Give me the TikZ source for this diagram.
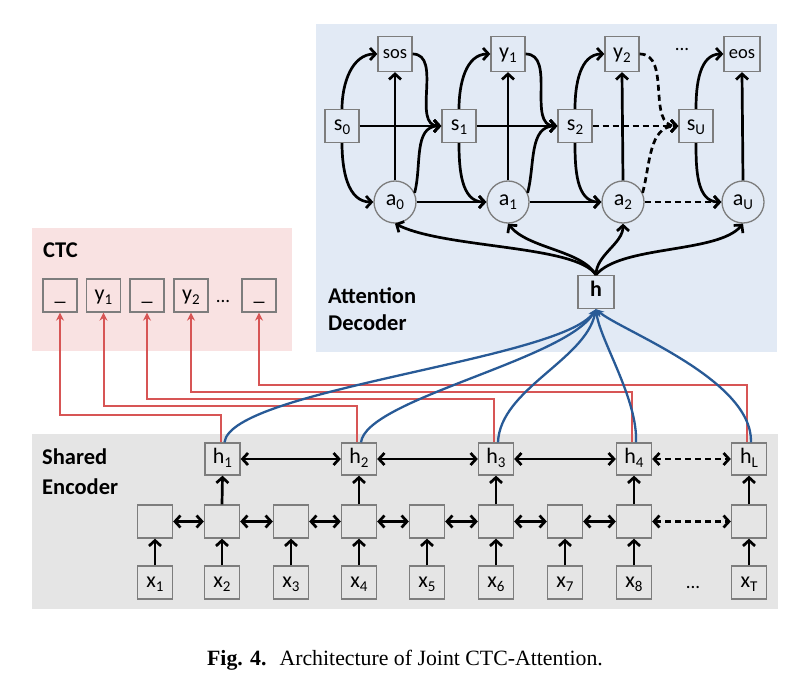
\documentclass[tikz,border=0pt]{standalone}
\usepackage{fontspec}
\setmainfont{Carlito}
\newfontfamily\capfont{Liberation Serif}
\usetikzlibrary{arrows.meta}
\definecolor{decbg}{RGB}{226,234,245}
\definecolor{ctcbg}{RGB}{249,226,226}
\definecolor{encbg}{RGB}{229,229,229}
\definecolor{boxline}{RGB}{125,125,125}
\definecolor{redln}{RGB}{215,85,85}
\definecolor{blueln}{RGB}{40,90,150}
\newcommand{\lsub}[1]{\raisebox{-4pt}{\fontsize{15}{15}\selectfont #1}}
\begin{document}
\begin{tikzpicture}[x=1pt,y=1pt,
  cell/.style={draw=boxline, line width=1.3pt, minimum width=34pt, minimum height=33pt, inner sep=0pt, text height=13pt, text depth=4pt, font=\fontsize{22}{22}\selectfont},
  circ/.style={circle, draw=boxline, line width=1.3pt, minimum size=42pt, inner sep=0pt, font=\fontsize{22}{22}\selectfont},
  blk/.style={line width=2.7pt, -{Straight Barb[length=5.5pt,width=12pt]}},
  blk2/.style={line width=2.7pt, {Straight Barb[length=5.5pt,width=12pt]}-{Straight Barb[length=5.5pt,width=12pt]}},
  dsh/.style={dash pattern=on 6pt off 4pt},
  redl/.style={draw=redln, line width=2pt, -{Stealth[length=8pt,width=8pt]}},
  bluel/.style={draw=blueln, line width=2.3pt, -{Stealth[length=8pt,width=7pt]}},
  lbl/.style={font=\fontsize{22.5}{22.5}\selectfont\bfseries, anchor=base west, inner sep=0pt},
  dots/.style={font=\fontsize{19}{19}\selectfont, anchor=base, inner sep=0pt}
]
\useasboundingbox (0,0) rectangle (804,-682);
% backgrounds
\fill[decbg] (316,-24) rectangle (777,-352);
\fill[ctcbg] (32,-228) rectangle (292,-351);
\fill[encbg] (32,-434) rectangle (778,-609);

% labels
\node[lbl] (lctc) at (43,-258) {CTC};
\node[lbl] (latt) at (328,-303) {Attention};
\node[lbl] (ldec) at (328,-330) {Decoder};
\node[lbl] (lsha) at (42,-464) {Shared};
\node[lbl] (lenc) at (42,-494) {Encoder};

% decoder nodes
\node[cell] (s0) at (342,-126) {s\lsub{0}};
\node[cell, minimum height=35pt, font=\fontsize{18.5}{18.5}\selectfont] (sos) at (395,-54) {sos};
\node[circ] (a0) at (395,-202) {a\lsub{0}};
\node[cell] (s1) at (459,-126) {s\lsub{1}};
\node[cell, minimum height=35pt] (y1) at (508,-54) {y\lsub{1}};
\node[circ] (a1) at (508,-202) {a\lsub{1}};
\node[cell] (s2) at (575,-126) {s\lsub{2}};
\node[cell, minimum height=35pt] (y2) at (622,-54) {y\lsub{2}};
\node[circ] (a2) at (623,-202) {a\lsub{2}};
\node[cell] (sU) at (696,-126) {s\lsub{U}};
\node[cell, minimum width=36pt, minimum height=35pt, font=\fontsize{18.5}{18.5}\selectfont] (eos) at (742,-54) {eos};
\node[circ] (aU) at (743,-202) {a\lsub{U}};
\node[dots] (ddots) at (682,-51) {...};
\node[cell, minimum width=36pt, font=\fontsize{22}{22}\selectfont\bfseries] (h) at (596,-292) {h};

% decoder connectors
\draw[blk] (s0.north) to[out=90,in=180] (sos.west);
\draw[blk] (s0.south) to[out=-90,in=180] (a0.west);
\draw[blk] (s0.east) -- (s1.west);
\draw[blk] (a0.north) -- (sos.south);
\draw[blk] (a0.east) -- (a1.west);
\draw[blk] (sos.east) to[out=0,in=180] (s1.west);
\draw[blk] (a0.25) to[out=75,in=180] (s1.west);

\draw[blk] (s1.north) to[out=90,in=180] (y1.west);
\draw[blk] (s1.south) to[out=-90,in=180] (a1.west);
\draw[blk] (s1.east) -- (s2.west);
\draw[blk] (a1.north) -- (y1.south);
\draw[blk] (a1.east) -- (a2.west);
\draw[blk] (y1.east) to[out=0,in=180] (s2.west);
\draw[blk] (a1.25) to[out=75,in=180] (s2.west);

\draw[blk] (s2.north) to[out=90,in=180] (y2.west);
\draw[blk] (s2.south) to[out=-90,in=180] (a2.west);
\draw[blk,dsh] (s2.east) -- (sU.west);
\draw[blk] (a2.north) -- (y2.south);
\draw[blk,dsh] (a2.east) -- (aU.west);
\draw[blk,dsh] (y2.east) to[out=0,in=180] (sU.west);
\draw[blk,dsh] (a2.25) to[out=75,in=180] (sU.west);

\draw[blk] (sU.north) to[out=90,in=180] (eos.west);
\draw[blk] (sU.south) to[out=-90,in=180] (aU.west);
\draw[blk] (aU.north) -- (eos.south);

% h to attention
\draw[blk] (h.north) .. controls +(-20,30) and +(50,-25) .. (a0.south);
\draw[blk] (h.north) .. controls +(-15,25) and +(20,-25) .. (a1.south);
\draw[blk] (h.north) .. controls +(0,20) and +(0,-20) .. (a2.south);
\draw[blk] (h.north) .. controls +(25,30) and +(-25,-30) .. (aU.south);

% CTC nodes
\node[cell] (c1) at (60,-295.5) {\_};
\node[cell] (c2) at (103.5,-295.5) {y\lsub{1}};
\node[cell] (c3) at (147,-295.5) {\_};
\node[cell] (c4) at (191,-295.5) {y\lsub{2}};
\node[cell] (c5) at (259,-295.5) {\_};
\node[dots] (cdots) at (223,-302) {...};

% encoder nodes
\node[cell, minimum width=35pt, minimum height=32pt] (e1) at (222.5,-459) {h\lsub{1}};
\node[cell, minimum width=35pt, minimum height=32pt] (e2) at (359,-459) {h\lsub{2}};
\node[cell, minimum width=35pt, minimum height=32pt] (e3) at (496,-459) {h\lsub{3}};
\node[cell, minimum width=35pt, minimum height=32pt] (e4) at (634,-459) {h\lsub{4}};
\node[cell, minimum width=35pt, minimum height=32pt] (eL) at (749,-459) {h\lsub{L}};
\foreach \i/\xx in {1/155,2/222,3/291,4/359,5/427,6/496,7/565,8/634,T/749}{
  \node[cell, minimum width=35pt, minimum height=33pt] (m\i) at (\xx,-521.5) {};
  \node[cell, minimum width=35pt, minimum height=33pt] (x\i) at (\xx,-582.5) {x\lsub{\i}};
  \draw[blk] (x\i.north) -- (m\i.south);
}
\node[dots] (edots) at (693,-588) {...};
\foreach \i/\j in {1/2,2/3,3/4,4/5,5/6,6/7,7/8}{
  \draw[blk2] (m\i.east) -- (m\j.west);
}
\draw[blk2,dsh] (m8.east) -- (mT.west);
\draw[blk] (m2.north) -- (e1.south);
\draw[blk] (m4.north) -- (e2.south);
\draw[blk] (m6.north) -- (e3.south);
\draw[blk] (m8.north) -- (e4.south);
\draw[blk] (mT.north) -- (eL.south);
\draw[blk2] (e1.east) -- (e2.west);
\draw[blk2] (e2.east) -- (e3.west);
\draw[blk2] (e3.east) -- (e4.west);
\draw[blk2,dsh] (e4.east) -- (eL.west);

% CTC red lines
\draw[redl] ([xshift=-2pt]e1.north) -- ++(0,27) -| (c1.south);
\draw[redl] ([xshift=-2pt]e2.north) -- ++(0,36) -| (c2.south);
\draw[redl] ([xshift=-2pt]e3.north) -- ++(0,43) -| (c3.south);
\draw[redl] ([xshift=-2pt]e4.north) -- ++(0,50) -| (c4.south);
\draw[redl] ([xshift=-2pt]eL.north) -- ++(0,57) -| (c5.south);

% attention blue lines
\draw[bluel] ([xshift=2pt]e1.north) .. controls +(6,53) and +(-36,-51) .. (h.south);
\draw[bluel] ([xshift=2pt]e2.north) .. controls +(5,43) and +(-31,-51) .. (h.south);
\draw[bluel] ([xshift=2pt]e3.north) .. controls +(2,53) and +(-11,-51) .. (h.south);
\draw[bluel] ([xshift=2pt]e4.north) .. controls +(2,43) and +(4,-31) .. (h.south);
\draw[bluel] ([xshift=2pt]eL.north) .. controls +(2,63) and +(24,-21) .. (h.south);

% caption
\node[anchor=base, inner sep=0pt, font=\capfont\fontsize{21.8}{21.8}\selectfont] (cap) at (405,-665) {\textbf{Fig. 4.}\hspace{0.6em}Architecture of Joint CTC-Attention.};
\end{tikzpicture}
\end{document}
